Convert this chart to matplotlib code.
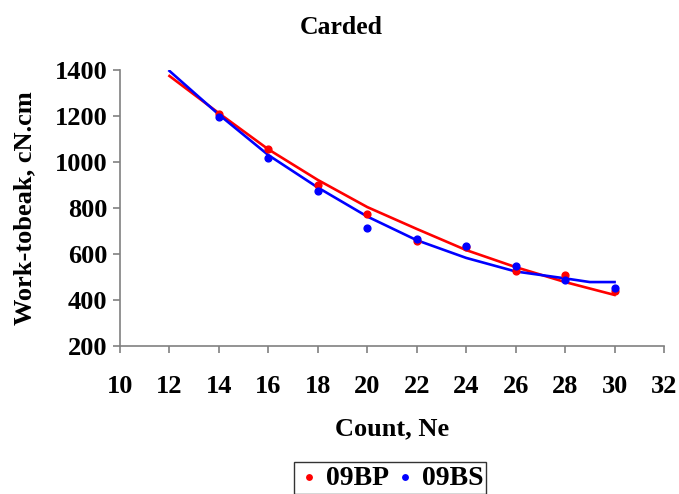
import matplotlib
matplotlib.use('Agg')
import matplotlib.pyplot as plt

count = [14, 16, 18, 20, 22, 24, 26, 28, 30]
bp_09 = [1210, 1058, 902, 776, 655, 630, 528, 508, 438]
bs_09 = [1196, 1017, 876, 714, 665, 633, 547, 487, 453]

# trend lines as drawn in the reference
trend_x_bp = [12, 14, 16, 18, 20, 22, 24, 26, 28, 30]
trend_bp = [1374, 1212, 1055, 922, 804, 709, 617, 543, 478, 422]
trend_x_bs = [12, 14, 16, 18, 20, 22, 24, 26, 28, 29, 30]
trend_bs = [1396, 1206, 1030, 889, 763, 660, 583, 524, 494, 478, 478]

plt.rcParams['font.family'] = ['Liberation Serif', 'DejaVu Serif']
plt.rcParams['font.weight'] = 'bold'

fig = plt.figure(figsize=(6.79, 4.94), dpi=100)
ax = fig.add_axes([120/679, 1-346/494, 544/679, 276/494])

ax.plot(trend_x_bp, trend_bp, color='#ff0000', lw=1.9)
ax.plot(trend_x_bs, trend_bs, color='#0000ff', lw=1.9)

ax.scatter(count, bp_09, color='#ff0000', s=24, zorder=3, label='09BP')
ax.scatter(count, bs_09, color='#0000ff', s=24, zorder=3, label='09BS')

ax.set_xlim(10, 32)
ax.set_ylim(200, 1400)
ax.set_xticks(range(10, 33, 2))
ax.set_yticks(range(200, 1401, 200))
for s in ['top', 'right']:
    ax.spines[s].set_visible(False)
for s in ['left', 'bottom']:
    ax.spines[s].set_color('#808080')
    ax.spines[s].set_linewidth(1.2)
ax.tick_params(direction='out', length=5, width=1.2, color='#808080',
               labelsize=19)
ax.tick_params(axis='x', pad=16)
ax.tick_params(axis='y', pad=4)
for lab in ax.get_xticklabels() + ax.get_yticklabels():
    lab.set_fontweight('bold')

ax.set_xlabel('Count, Ne', fontsize=19, fontweight='bold', labelpad=14)
ax.set_ylabel('Work-tobeak, cN.cm', fontsize=19, fontweight='bold', labelpad=13)
fig.text(341/679, 1-27/494, 'Carded', ha='center', va='center', fontsize=18.5, fontweight='bold')

leg = fig.legend(loc='upper center', bbox_to_anchor=(390/679, 1-462/494), ncol=2,
                 borderaxespad=0, frameon=True, fancybox=False, edgecolor='black',
                 markerscale=0.8, prop={'size': 20, 'weight': 'bold'},
                 handletextpad=0.13, handlelength=0.9, columnspacing=0.16,
                 borderpad=0.12)
leg.get_frame().set_linewidth(1.0)

fig.savefig('out.png', dpi=100)
